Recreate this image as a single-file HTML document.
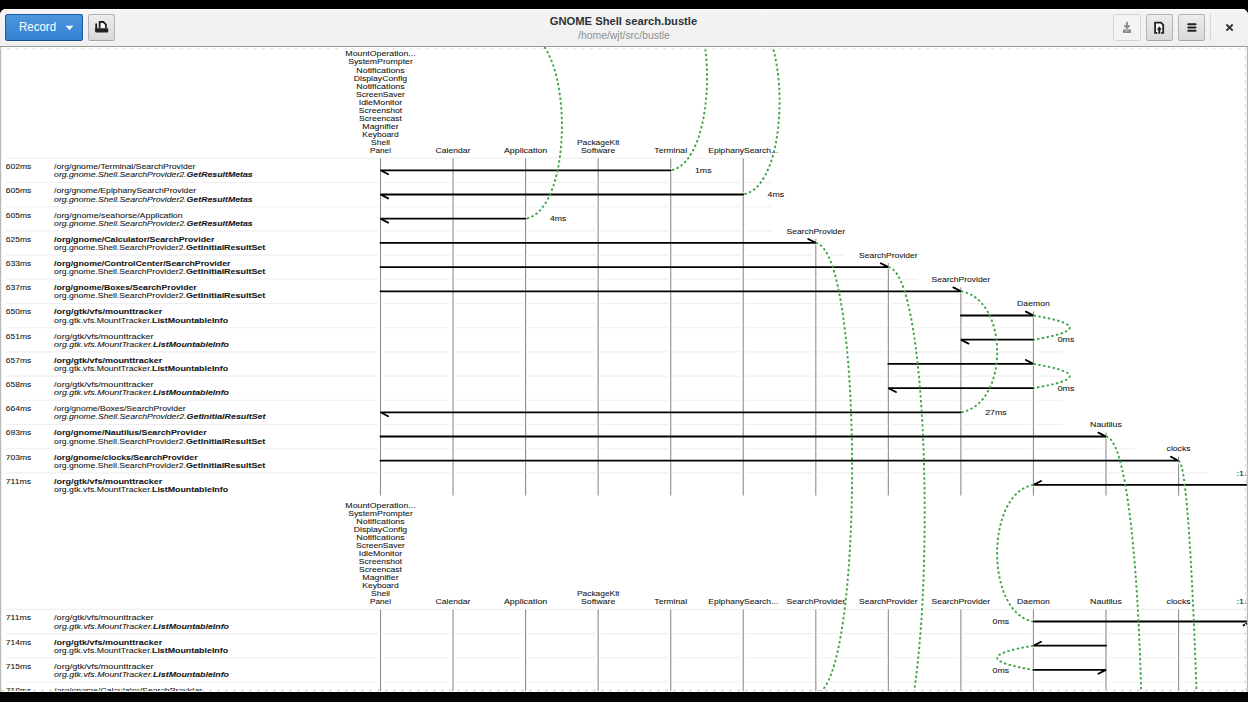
<!DOCTYPE html>
<html><head><meta charset="utf-8">
<style>
html,body{margin:0;padding:0;background:#000;width:1248px;height:702px;overflow:hidden;}
body{position:relative;font-family:"Liberation Sans",sans-serif;}
#win{position:absolute;left:0;top:9px;width:1248px;height:683px;background:#fff;border-radius:6px 6px 0 0;overflow:hidden;}
#hb{position:absolute;left:0;top:0;width:1248px;height:38px;background:linear-gradient(#f4f4f4,#f0f0f0);border-bottom:1px solid #9a9a96;box-sizing:border-box;box-shadow:inset 0 1px #fff;}
.btn{position:absolute;top:5px;height:27px;box-sizing:border-box;border:1px solid #b3b3b0;border-bottom-color:#a4a4a0;border-radius:2.5px;background:linear-gradient(#ececec,#d9d9d9);box-shadow:0 1px rgba(255,255,255,.8);}
#rec{left:5px;width:78px;background:linear-gradient(#4d95dc,#3582d4);border-color:#1c5ba3 #1c5ba3 #144d8f;}
#rec span{position:absolute;left:13.3px;top:4.6px;color:#fff;font-size:12.5px;transform:scaleX(0.92);transform-origin:0 0;}
#title{position:absolute;left:-0.5px;width:1248px;top:6px;text-align:center;font-weight:bold;font-size:11.2px;color:#2e3436;}
#sub{position:absolute;left:0;width:1248px;top:21px;text-align:center;font-size:10.4px;color:#8e9192;}
#content{position:absolute;left:0;top:37px;width:1248px;height:646px;}
svg{position:absolute;left:0;top:0;}
</style></head><body>
<div id="win">
 <div id="hb">
  <div class="btn" id="rec"><span>Record</span>
   <svg width="78" height="26" style="left:-1px;top:-1px"><path d="M60.6 11.8 L68.4 11.8 L64.5 16.2 Z" fill="#fff"/></svg></div>
  <div class="btn" style="left:88px;width:27px;"></div>
  <div id="title">GNOME Shell search.bustle</div>
  <div id="sub">/home/wjt/src/bustle</div>
  <div class="btn" style="left:1113px;width:28px;background:#f3f3f3;border-color:#d3d3d0;box-shadow:none"></div>
  <div class="btn" style="left:1146px;width:27px;"></div>
  <div class="btn" style="left:1178px;width:27px;"></div>
  <div style="position:absolute;left:1210px;top:5px;width:1px;height:27px;background:#d6d6d4"></div>
 </div>
</div>
<svg id="dg" width="1248" height="702" style="position:absolute;left:0;top:0">
 <defs><clipPath id="cc"><rect x="1" y="47" width="1246" height="644"/></clipPath></defs>
 <g clip-path="url(#cc)">
 <g stroke="#efefef" stroke-width="1.1">
<line x1="5.5" y1="158.30" x2="772.25" y2="158.30"/>
<line x1="5.5" y1="182.50" x2="772.25" y2="182.50"/>
<line x1="5.5" y1="206.70" x2="772.25" y2="206.70"/>
<line x1="5.5" y1="230.90" x2="772.25" y2="230.90"/>
<line x1="5.5" y1="255.10" x2="844.80" y2="255.10"/>
<line x1="5.5" y1="279.30" x2="917.35" y2="279.30"/>
<line x1="5.5" y1="303.50" x2="989.90" y2="303.50"/>
<line x1="5.5" y1="327.70" x2="1062.45" y2="327.70"/>
<line x1="5.5" y1="351.90" x2="1062.45" y2="351.90"/>
<line x1="5.5" y1="376.10" x2="1062.45" y2="376.10"/>
<line x1="5.5" y1="400.30" x2="1062.45" y2="400.30"/>
<line x1="5.5" y1="424.50" x2="1062.45" y2="424.50"/>
<line x1="5.5" y1="448.70" x2="1135.00" y2="448.70"/>
<line x1="5.5" y1="472.90" x2="1207.55" y2="472.90"/>
<line x1="5.5" y1="609.40" x2="1246.00" y2="609.40"/>
<line x1="5.5" y1="633.60" x2="1246.00" y2="633.60"/>
<line x1="5.5" y1="657.80" x2="1246.00" y2="657.80"/>
<line x1="5.5" y1="682.00" x2="1246.00" y2="682.00"/>
</g>
<g stroke="#fff" stroke-width="5">
<line x1="380.50" y1="158.30" x2="380.50" y2="495.60"/>
<line x1="453.05" y1="158.30" x2="453.05" y2="495.60"/>
<line x1="525.60" y1="158.30" x2="525.60" y2="495.60"/>
<line x1="598.15" y1="158.30" x2="598.15" y2="495.60"/>
<line x1="670.70" y1="158.30" x2="670.70" y2="495.60"/>
<line x1="743.25" y1="158.30" x2="743.25" y2="495.60"/>
<line x1="815.80" y1="238.90" x2="815.80" y2="495.60"/>
<line x1="888.35" y1="263.10" x2="888.35" y2="495.60"/>
<line x1="960.90" y1="287.30" x2="960.90" y2="495.60"/>
<line x1="1033.45" y1="311.50" x2="1033.45" y2="495.60"/>
<line x1="1106.00" y1="432.50" x2="1106.00" y2="495.60"/>
<line x1="1178.55" y1="456.70" x2="1178.55" y2="495.60"/>
<line x1="380.50" y1="609.40" x2="380.50" y2="693.00"/>
<line x1="453.05" y1="609.40" x2="453.05" y2="693.00"/>
<line x1="525.60" y1="609.40" x2="525.60" y2="693.00"/>
<line x1="598.15" y1="609.40" x2="598.15" y2="693.00"/>
<line x1="670.70" y1="609.40" x2="670.70" y2="693.00"/>
<line x1="743.25" y1="609.40" x2="743.25" y2="693.00"/>
<line x1="815.80" y1="609.40" x2="815.80" y2="693.00"/>
<line x1="888.35" y1="609.40" x2="888.35" y2="693.00"/>
<line x1="960.90" y1="609.40" x2="960.90" y2="693.00"/>
<line x1="1033.45" y1="609.40" x2="1033.45" y2="693.00"/>
<line x1="1106.00" y1="609.40" x2="1106.00" y2="693.00"/>
<line x1="1178.55" y1="609.40" x2="1178.55" y2="693.00"/>
</g><g stroke="#929292" stroke-width="1.15">
<line x1="380.50" y1="158.30" x2="380.50" y2="495.60"/>
<line x1="453.05" y1="158.30" x2="453.05" y2="495.60"/>
<line x1="525.60" y1="158.30" x2="525.60" y2="495.60"/>
<line x1="598.15" y1="158.30" x2="598.15" y2="495.60"/>
<line x1="670.70" y1="158.30" x2="670.70" y2="495.60"/>
<line x1="743.25" y1="158.30" x2="743.25" y2="495.60"/>
<line x1="815.80" y1="238.90" x2="815.80" y2="495.60"/>
<line x1="888.35" y1="263.10" x2="888.35" y2="495.60"/>
<line x1="960.90" y1="287.30" x2="960.90" y2="495.60"/>
<line x1="1033.45" y1="311.50" x2="1033.45" y2="495.60"/>
<line x1="1106.00" y1="432.50" x2="1106.00" y2="495.60"/>
<line x1="1178.55" y1="456.70" x2="1178.55" y2="495.60"/>
<line x1="380.50" y1="609.40" x2="380.50" y2="693.00"/>
<line x1="453.05" y1="609.40" x2="453.05" y2="693.00"/>
<line x1="525.60" y1="609.40" x2="525.60" y2="693.00"/>
<line x1="598.15" y1="609.40" x2="598.15" y2="693.00"/>
<line x1="670.70" y1="609.40" x2="670.70" y2="693.00"/>
<line x1="743.25" y1="609.40" x2="743.25" y2="693.00"/>
<line x1="815.80" y1="609.40" x2="815.80" y2="693.00"/>
<line x1="888.35" y1="609.40" x2="888.35" y2="693.00"/>
<line x1="960.90" y1="609.40" x2="960.90" y2="693.00"/>
<line x1="1033.45" y1="609.40" x2="1033.45" y2="693.00"/>
<line x1="1106.00" y1="609.40" x2="1106.00" y2="693.00"/>
<line x1="1178.55" y1="609.40" x2="1178.55" y2="693.00"/>
</g>
<g fill="none" stroke="#fff" stroke-width="4"><path d="M670.70 -15.40 C719.12 -7.33 719.12 162.23 670.70 170.30"/><path d="M743.25 8.80 C791.67 16.87 791.67 186.43 743.25 194.50"/><path d="M525.60 33.00 C574.02 41.07 574.02 210.63 525.60 218.70"/><path d="M815.80 242.90 C864.22 250.97 864.22 686.03 815.80 694.10"/><path d="M888.35 267.10 C936.77 275.17 936.77 751.93 888.35 760.00"/><path d="M960.90 291.30 C1009.32 299.37 1009.32 404.23 960.90 412.30"/><path d="M1033.45 315.50 C1081.87 323.57 1081.87 331.63 1033.45 339.70"/><path d="M1033.45 363.90 C1081.87 371.97 1081.87 380.03 1033.45 388.10"/><path d="M1106.00 436.50 C1154.42 444.57 1154.42 1119.93 1106.00 1128.00"/><path d="M1178.55 460.70 C1226.97 468.77 1226.97 4492.53 1178.55 4500.60"/><path d="M1033.45 484.90 C985.03 492.97 985.03 613.43 1033.45 621.50"/><path d="M1033.45 645.70 C985.03 653.77 985.03 661.83 1033.45 669.90"/></g>
<g fill="none" stroke="#000" stroke-width="1.8" stroke-linecap="round" stroke-linejoin="miter" stroke-miterlimit="3">
<path d="M670.70 170.30 L380.50 170.30 L388.10 174.20"/>
<path d="M743.25 194.50 L380.50 194.50 L388.10 198.40"/>
<path d="M525.60 218.70 L380.50 218.70 L388.10 222.60"/>
<path d="M380.50 242.90 L815.80 242.90 L808.20 239.00"/>
<path d="M380.50 267.10 L888.35 267.10 L880.75 263.20"/>
<path d="M380.50 291.30 L960.90 291.30 L953.30 287.40"/>
<path d="M960.90 315.50 L1033.45 315.50 L1025.85 311.60"/>
<path d="M1033.45 339.70 L960.90 339.70 L968.50 343.60"/>
<path d="M888.35 363.90 L1033.45 363.90 L1025.85 360.00"/>
<path d="M1033.45 388.10 L888.35 388.10 L895.95 392.00"/>
<path d="M960.90 412.30 L380.50 412.30 L388.10 416.20"/>
<path d="M380.50 436.50 L1106.00 436.50 L1098.40 432.60"/>
<path d="M380.50 460.70 L1178.55 460.70 L1170.95 456.80"/>
<path d="M1251.10 484.90 L1033.45 484.90 L1041.05 481.00"/>
<path d="M1033.45 621.50 L1251.10 621.50 L1243.50 625.40"/>
<path d="M1106.00 645.70 L1033.45 645.70 L1041.05 641.80"/>
<path d="M1033.45 669.90 L1106.00 669.90 L1098.40 673.80"/>
</g>
<g fill="none" stroke="#3fa447" stroke-width="1.9" stroke-dasharray="2.42 2.42"><path d="M670.70 -15.40 C719.12 -7.33 719.12 162.23 670.70 170.30"/><path d="M743.25 8.80 C791.67 16.87 791.67 186.43 743.25 194.50"/><path d="M525.60 33.00 C574.02 41.07 574.02 210.63 525.60 218.70"/><path d="M815.80 242.90 C864.22 250.97 864.22 686.03 815.80 694.10"/><path d="M888.35 267.10 C936.77 275.17 936.77 751.93 888.35 760.00"/><path d="M960.90 291.30 C1009.32 299.37 1009.32 404.23 960.90 412.30"/><path d="M1033.45 315.50 C1081.87 323.57 1081.87 331.63 1033.45 339.70"/><path d="M1033.45 363.90 C1081.87 371.97 1081.87 380.03 1033.45 388.10"/><path d="M1106.00 436.50 C1154.42 444.57 1154.42 1119.93 1106.00 1128.00"/><path d="M1178.55 460.70 C1226.97 468.77 1226.97 4492.53 1178.55 4500.60"/><path d="M1033.45 484.90 C985.03 492.97 985.03 613.43 1033.45 621.50"/><path d="M1033.45 645.70 C985.03 653.77 985.03 661.83 1033.45 669.90"/></g>
<g font-family="&quot;Liberation Sans&quot;, sans-serif" fill="#151515" stroke="#151515" stroke-width="0.08"><text x="345.38" y="56.40" textLength="70.25" lengthAdjust="spacingAndGlyphs" font-size="8.0" >MountOperation...</text><text x="348.17" y="64.45" textLength="64.66" lengthAdjust="spacingAndGlyphs" font-size="8.0" >SystemPrompter</text><text x="356.25" y="72.50" textLength="48.51" lengthAdjust="spacingAndGlyphs" font-size="8.0" >Notifications</text><text x="353.78" y="80.55" textLength="53.43" lengthAdjust="spacingAndGlyphs" font-size="8.0" >DisplayConfig</text><text x="356.25" y="88.60" textLength="48.51" lengthAdjust="spacingAndGlyphs" font-size="8.0" >Notifications</text><text x="356.07" y="96.65" textLength="48.85" lengthAdjust="spacingAndGlyphs" font-size="8.0" >ScreenSaver</text><text x="358.71" y="104.70" textLength="43.59" lengthAdjust="spacingAndGlyphs" font-size="8.0" >IdleMonitor</text><text x="358.81" y="112.75" textLength="43.37" lengthAdjust="spacingAndGlyphs" font-size="8.0" >Screenshot</text><text x="359.13" y="120.80" textLength="42.73" lengthAdjust="spacingAndGlyphs" font-size="8.0" >Screencast</text><text x="362.37" y="128.85" textLength="36.26" lengthAdjust="spacingAndGlyphs" font-size="8.0" >Magnifier</text><text x="362.28" y="136.90" textLength="36.43" lengthAdjust="spacingAndGlyphs" font-size="8.0" >Keyboard</text><text x="371.05" y="144.95" textLength="18.91" lengthAdjust="spacingAndGlyphs" font-size="8.0" >Shell</text><text x="370.05" y="153.00" textLength="20.91" lengthAdjust="spacingAndGlyphs" font-size="8.0" >Panel</text><text x="435.63" y="153.00" textLength="34.85" lengthAdjust="spacingAndGlyphs" font-size="8.0" >Calendar</text><text x="503.95" y="153.00" textLength="43.30" lengthAdjust="spacingAndGlyphs" font-size="8.0" >Application</text><text x="576.95" y="144.95" textLength="42.40" lengthAdjust="spacingAndGlyphs" font-size="8.0" >PackageKit</text><text x="581.07" y="153.00" textLength="34.16" lengthAdjust="spacingAndGlyphs" font-size="8.0" >Software</text><text x="654.32" y="153.00" textLength="32.75" lengthAdjust="spacingAndGlyphs" font-size="8.0" >Terminal</text><text x="708.22" y="153.00" textLength="70.06" lengthAdjust="spacingAndGlyphs" font-size="8.0" >EpiphanySearch...</text><text x="345.38" y="507.50" textLength="70.25" lengthAdjust="spacingAndGlyphs" font-size="8.0" >MountOperation...</text><text x="348.17" y="515.55" textLength="64.66" lengthAdjust="spacingAndGlyphs" font-size="8.0" >SystemPrompter</text><text x="356.25" y="523.60" textLength="48.51" lengthAdjust="spacingAndGlyphs" font-size="8.0" >Notifications</text><text x="353.78" y="531.65" textLength="53.43" lengthAdjust="spacingAndGlyphs" font-size="8.0" >DisplayConfig</text><text x="356.25" y="539.70" textLength="48.51" lengthAdjust="spacingAndGlyphs" font-size="8.0" >Notifications</text><text x="356.07" y="547.75" textLength="48.85" lengthAdjust="spacingAndGlyphs" font-size="8.0" >ScreenSaver</text><text x="358.71" y="555.80" textLength="43.59" lengthAdjust="spacingAndGlyphs" font-size="8.0" >IdleMonitor</text><text x="358.81" y="563.85" textLength="43.37" lengthAdjust="spacingAndGlyphs" font-size="8.0" >Screenshot</text><text x="359.13" y="571.90" textLength="42.73" lengthAdjust="spacingAndGlyphs" font-size="8.0" >Screencast</text><text x="362.37" y="579.95" textLength="36.26" lengthAdjust="spacingAndGlyphs" font-size="8.0" >Magnifier</text><text x="362.28" y="588.00" textLength="36.43" lengthAdjust="spacingAndGlyphs" font-size="8.0" >Keyboard</text><text x="371.05" y="596.05" textLength="18.91" lengthAdjust="spacingAndGlyphs" font-size="8.0" >Shell</text><text x="370.05" y="604.10" textLength="20.91" lengthAdjust="spacingAndGlyphs" font-size="8.0" >Panel</text><text x="435.63" y="604.10" textLength="34.85" lengthAdjust="spacingAndGlyphs" font-size="8.0" >Calendar</text><text x="503.95" y="604.10" textLength="43.30" lengthAdjust="spacingAndGlyphs" font-size="8.0" >Application</text><text x="576.95" y="596.05" textLength="42.40" lengthAdjust="spacingAndGlyphs" font-size="8.0" >PackageKit</text><text x="581.07" y="604.10" textLength="34.16" lengthAdjust="spacingAndGlyphs" font-size="8.0" >Software</text><text x="654.32" y="604.10" textLength="32.75" lengthAdjust="spacingAndGlyphs" font-size="8.0" >Terminal</text><text x="708.22" y="604.10" textLength="70.06" lengthAdjust="spacingAndGlyphs" font-size="8.0" >EpiphanySearch...</text><text x="786.53" y="604.10" textLength="58.53" lengthAdjust="spacingAndGlyphs" font-size="8.0" >SearchProvider</text><text x="859.08" y="604.10" textLength="58.53" lengthAdjust="spacingAndGlyphs" font-size="8.0" >SearchProvider</text><text x="931.63" y="604.10" textLength="58.53" lengthAdjust="spacingAndGlyphs" font-size="8.0" >SearchProvider</text><text x="1017.11" y="604.10" textLength="32.69" lengthAdjust="spacingAndGlyphs" font-size="8.0" >Daemon</text><text x="1090.12" y="604.10" textLength="31.75" lengthAdjust="spacingAndGlyphs" font-size="8.0" >Nautilus</text><text x="1166.58" y="604.10" textLength="23.94" lengthAdjust="spacingAndGlyphs" font-size="8.0" >clocks</text><text x="1236.60" y="604.10" textLength="24.80" lengthAdjust="spacingAndGlyphs" font-size="8.0" >:1.345</text><text x="5.80" y="169.10" textLength="25.36" lengthAdjust="spacingAndGlyphs" font-size="8.0" >602ms</text><text x="54.10" y="169.10" textLength="141.33" lengthAdjust="spacingAndGlyphs" font-size="8.0" >/org/gnome/Terminal/SearchProvider</text><text x="54.10" y="177.40" textLength="132.44" lengthAdjust="spacingAndGlyphs" font-size="8.0" font-style="italic">org.gnome.Shell.SearchProvider2.</text><text x="186.54" y="177.40" textLength="66.22" lengthAdjust="spacingAndGlyphs" font-size="8.0" font-weight="bold" font-style="italic">GetResultMetas</text><text x="5.80" y="193.30" textLength="25.36" lengthAdjust="spacingAndGlyphs" font-size="8.0" >605ms</text><text x="54.10" y="193.30" textLength="142.02" lengthAdjust="spacingAndGlyphs" font-size="8.0" >/org/gnome/EpiphanySearchProvider</text><text x="54.10" y="201.60" textLength="132.44" lengthAdjust="spacingAndGlyphs" font-size="8.0" font-style="italic">org.gnome.Shell.SearchProvider2.</text><text x="186.54" y="201.60" textLength="66.22" lengthAdjust="spacingAndGlyphs" font-size="8.0" font-weight="bold" font-style="italic">GetResultMetas</text><text x="5.80" y="217.50" textLength="25.36" lengthAdjust="spacingAndGlyphs" font-size="8.0" >605ms</text><text x="54.10" y="217.50" textLength="128.55" lengthAdjust="spacingAndGlyphs" font-size="8.0" >/org/gnome/seahorse/Application</text><text x="54.10" y="225.80" textLength="132.44" lengthAdjust="spacingAndGlyphs" font-size="8.0" font-style="italic">org.gnome.Shell.SearchProvider2.</text><text x="186.54" y="225.80" textLength="66.22" lengthAdjust="spacingAndGlyphs" font-size="8.0" font-weight="bold" font-style="italic">GetResultMetas</text><text x="5.80" y="241.70" textLength="25.36" lengthAdjust="spacingAndGlyphs" font-size="8.0" >625ms</text><text x="54.10" y="241.70" textLength="160.20" lengthAdjust="spacingAndGlyphs" font-size="8.0" font-weight="bold">/org/gnome/Calculator/SearchProvider</text><text x="54.10" y="250.00" textLength="131.83" lengthAdjust="spacingAndGlyphs" font-size="8.0" >org.gnome.Shell.SearchProvider2.</text><text x="185.93" y="250.00" textLength="79.36" lengthAdjust="spacingAndGlyphs" font-size="8.0" font-weight="bold">GetInitialResultSet</text><text x="5.80" y="265.90" textLength="25.36" lengthAdjust="spacingAndGlyphs" font-size="8.0" >633ms</text><text x="54.10" y="265.90" textLength="176.34" lengthAdjust="spacingAndGlyphs" font-size="8.0" font-weight="bold">/org/gnome/ControlCenter/SearchProvider</text><text x="54.10" y="274.20" textLength="131.83" lengthAdjust="spacingAndGlyphs" font-size="8.0" >org.gnome.Shell.SearchProvider2.</text><text x="185.93" y="274.20" textLength="79.36" lengthAdjust="spacingAndGlyphs" font-size="8.0" font-weight="bold">GetInitialResultSet</text><text x="5.80" y="290.10" textLength="25.36" lengthAdjust="spacingAndGlyphs" font-size="8.0" >637ms</text><text x="54.10" y="290.10" textLength="142.65" lengthAdjust="spacingAndGlyphs" font-size="8.0" font-weight="bold">/org/gnome/Boxes/SearchProvider</text><text x="54.10" y="298.40" textLength="131.83" lengthAdjust="spacingAndGlyphs" font-size="8.0" >org.gnome.Shell.SearchProvider2.</text><text x="185.93" y="298.40" textLength="79.36" lengthAdjust="spacingAndGlyphs" font-size="8.0" font-weight="bold">GetInitialResultSet</text><text x="5.80" y="314.30" textLength="25.36" lengthAdjust="spacingAndGlyphs" font-size="8.0" >650ms</text><text x="54.10" y="314.30" textLength="108.16" lengthAdjust="spacingAndGlyphs" font-size="8.0" font-weight="bold">/org/gtk/vfs/mounttracker</text><text x="54.10" y="322.60" textLength="97.90" lengthAdjust="spacingAndGlyphs" font-size="8.0" >org.gtk.vfs.MountTracker.</text><text x="152.00" y="322.60" textLength="76.09" lengthAdjust="spacingAndGlyphs" font-size="8.0" font-weight="bold">ListMountableInfo</text><text x="5.80" y="338.50" textLength="25.36" lengthAdjust="spacingAndGlyphs" font-size="8.0" >651ms</text><text x="54.10" y="338.50" textLength="99.51" lengthAdjust="spacingAndGlyphs" font-size="8.0" >/org/gtk/vfs/mounttracker</text><text x="54.10" y="346.80" textLength="98.85" lengthAdjust="spacingAndGlyphs" font-size="8.0" font-style="italic">org.gtk.vfs.MountTracker.</text><text x="152.95" y="346.80" textLength="76.09" lengthAdjust="spacingAndGlyphs" font-size="8.0" font-weight="bold" font-style="italic">ListMountableInfo</text><text x="5.80" y="362.70" textLength="25.36" lengthAdjust="spacingAndGlyphs" font-size="8.0" >657ms</text><text x="54.10" y="362.70" textLength="108.16" lengthAdjust="spacingAndGlyphs" font-size="8.0" font-weight="bold">/org/gtk/vfs/mounttracker</text><text x="54.10" y="371.00" textLength="97.90" lengthAdjust="spacingAndGlyphs" font-size="8.0" >org.gtk.vfs.MountTracker.</text><text x="152.00" y="371.00" textLength="76.09" lengthAdjust="spacingAndGlyphs" font-size="8.0" font-weight="bold">ListMountableInfo</text><text x="5.80" y="386.90" textLength="25.36" lengthAdjust="spacingAndGlyphs" font-size="8.0" >658ms</text><text x="54.10" y="386.90" textLength="99.51" lengthAdjust="spacingAndGlyphs" font-size="8.0" >/org/gtk/vfs/mounttracker</text><text x="54.10" y="395.20" textLength="98.85" lengthAdjust="spacingAndGlyphs" font-size="8.0" font-style="italic">org.gtk.vfs.MountTracker.</text><text x="152.95" y="395.20" textLength="76.09" lengthAdjust="spacingAndGlyphs" font-size="8.0" font-weight="bold" font-style="italic">ListMountableInfo</text><text x="5.80" y="411.10" textLength="25.36" lengthAdjust="spacingAndGlyphs" font-size="8.0" >664ms</text><text x="54.10" y="411.10" textLength="131.55" lengthAdjust="spacingAndGlyphs" font-size="8.0" >/org/gnome/Boxes/SearchProvider</text><text x="54.10" y="419.40" textLength="132.44" lengthAdjust="spacingAndGlyphs" font-size="8.0" font-style="italic">org.gnome.Shell.SearchProvider2.</text><text x="186.54" y="419.40" textLength="78.99" lengthAdjust="spacingAndGlyphs" font-size="8.0" font-weight="bold" font-style="italic">GetInitialResultSet</text><text x="5.80" y="435.30" textLength="25.36" lengthAdjust="spacingAndGlyphs" font-size="8.0" >693ms</text><text x="54.10" y="435.30" textLength="152.50" lengthAdjust="spacingAndGlyphs" font-size="8.0" font-weight="bold">/org/gnome/Nautilus/SearchProvider</text><text x="54.10" y="443.60" textLength="131.83" lengthAdjust="spacingAndGlyphs" font-size="8.0" >org.gnome.Shell.SearchProvider2.</text><text x="185.93" y="443.60" textLength="79.36" lengthAdjust="spacingAndGlyphs" font-size="8.0" font-weight="bold">GetInitialResultSet</text><text x="5.80" y="459.50" textLength="25.36" lengthAdjust="spacingAndGlyphs" font-size="8.0" >703ms</text><text x="54.10" y="459.50" textLength="143.46" lengthAdjust="spacingAndGlyphs" font-size="8.0" font-weight="bold">/org/gnome/clocks/SearchProvider</text><text x="54.10" y="467.80" textLength="131.83" lengthAdjust="spacingAndGlyphs" font-size="8.0" >org.gnome.Shell.SearchProvider2.</text><text x="185.93" y="467.80" textLength="79.36" lengthAdjust="spacingAndGlyphs" font-size="8.0" font-weight="bold">GetInitialResultSet</text><text x="5.80" y="483.70" textLength="25.36" lengthAdjust="spacingAndGlyphs" font-size="8.0" >711ms</text><text x="54.10" y="483.70" textLength="108.16" lengthAdjust="spacingAndGlyphs" font-size="8.0" font-weight="bold">/org/gtk/vfs/mounttracker</text><text x="54.10" y="492.00" textLength="97.90" lengthAdjust="spacingAndGlyphs" font-size="8.0" >org.gtk.vfs.MountTracker.</text><text x="152.00" y="492.00" textLength="76.09" lengthAdjust="spacingAndGlyphs" font-size="8.0" font-weight="bold">ListMountableInfo</text><text x="5.80" y="620.30" textLength="25.36" lengthAdjust="spacingAndGlyphs" font-size="8.0" >711ms</text><text x="54.10" y="620.30" textLength="99.51" lengthAdjust="spacingAndGlyphs" font-size="8.0" >/org/gtk/vfs/mounttracker</text><text x="54.10" y="628.60" textLength="98.85" lengthAdjust="spacingAndGlyphs" font-size="8.0" font-style="italic">org.gtk.vfs.MountTracker.</text><text x="152.95" y="628.60" textLength="76.09" lengthAdjust="spacingAndGlyphs" font-size="8.0" font-weight="bold" font-style="italic">ListMountableInfo</text><text x="5.80" y="644.50" textLength="25.36" lengthAdjust="spacingAndGlyphs" font-size="8.0" >714ms</text><text x="54.10" y="644.50" textLength="108.16" lengthAdjust="spacingAndGlyphs" font-size="8.0" font-weight="bold">/org/gtk/vfs/mounttracker</text><text x="54.10" y="652.80" textLength="97.90" lengthAdjust="spacingAndGlyphs" font-size="8.0" >org.gtk.vfs.MountTracker.</text><text x="152.00" y="652.80" textLength="76.09" lengthAdjust="spacingAndGlyphs" font-size="8.0" font-weight="bold">ListMountableInfo</text><text x="5.80" y="668.70" textLength="25.36" lengthAdjust="spacingAndGlyphs" font-size="8.0" >715ms</text><text x="54.10" y="668.70" textLength="99.51" lengthAdjust="spacingAndGlyphs" font-size="8.0" >/org/gtk/vfs/mounttracker</text><text x="54.10" y="677.00" textLength="98.85" lengthAdjust="spacingAndGlyphs" font-size="8.0" font-style="italic">org.gtk.vfs.MountTracker.</text><text x="152.95" y="677.00" textLength="76.09" lengthAdjust="spacingAndGlyphs" font-size="8.0" font-weight="bold" font-style="italic">ListMountableInfo</text><text x="5.80" y="692.90" textLength="25.36" lengthAdjust="spacingAndGlyphs" font-size="8.0" >718ms</text><text x="54.10" y="692.90" textLength="147.94" lengthAdjust="spacingAndGlyphs" font-size="8.0" >/org/gnome/Calculator/SearchProvider</text><text x="54.10" y="701.20" textLength="132.44" lengthAdjust="spacingAndGlyphs" font-size="8.0" font-style="italic">org.gnome.Shell.SearchProvider2.</text><text x="186.54" y="701.20" textLength="78.99" lengthAdjust="spacingAndGlyphs" font-size="8.0" font-weight="bold" font-style="italic">GetInitialResultSet</text><text x="786.53" y="233.60" textLength="58.53" lengthAdjust="spacingAndGlyphs" font-size="8.0" >SearchProvider</text><text x="859.08" y="257.80" textLength="58.53" lengthAdjust="spacingAndGlyphs" font-size="8.0" >SearchProvider</text><text x="931.63" y="282.00" textLength="58.53" lengthAdjust="spacingAndGlyphs" font-size="8.0" >SearchProvider</text><text x="1017.11" y="306.20" textLength="32.69" lengthAdjust="spacingAndGlyphs" font-size="8.0" >Daemon</text><text x="1090.12" y="427.20" textLength="31.75" lengthAdjust="spacingAndGlyphs" font-size="8.0" >Nautilus</text><text x="1166.58" y="451.40" textLength="23.94" lengthAdjust="spacingAndGlyphs" font-size="8.0" >clocks</text><text x="1236.60" y="475.60" textLength="24.80" lengthAdjust="spacingAndGlyphs" font-size="8.0" >:1.345</text><text x="695.00" y="172.90" textLength="16.52" lengthAdjust="spacingAndGlyphs" font-size="8.0" >1ms</text><text x="767.55" y="197.10" textLength="16.52" lengthAdjust="spacingAndGlyphs" font-size="8.0" >4ms</text><text x="549.90" y="221.30" textLength="16.52" lengthAdjust="spacingAndGlyphs" font-size="8.0" >4ms</text><text x="985.20" y="414.90" textLength="21.45" lengthAdjust="spacingAndGlyphs" font-size="8.0" >27ms</text><text x="1057.75" y="342.30" textLength="16.52" lengthAdjust="spacingAndGlyphs" font-size="8.0" >0ms</text><text x="1057.75" y="390.70" textLength="16.52" lengthAdjust="spacingAndGlyphs" font-size="8.0" >0ms</text><text x="992.63" y="624.10" textLength="16.52" lengthAdjust="spacingAndGlyphs" font-size="8.0" >0ms</text><text x="992.63" y="672.50" textLength="16.52" lengthAdjust="spacingAndGlyphs" font-size="8.0" >0ms</text></g>
 </g>
 <!-- left / right borders -->
 <rect x="0" y="47" width="1.2" height="645" fill="#b9b9b6"/>
 <rect x="1246.8" y="47" width="1.2" height="645" fill="#b9b9b6"/>
 <line x1="-1.3" y1="48.8" x2="1246" y2="48.8" stroke="#e8e8e8" stroke-width="1.3" stroke-dasharray="4 4.2"/>
 <line x1="1" y1="690.5" x2="1246" y2="690.5" stroke="#d6d6d6" stroke-width="1.3" stroke-dasharray="3 5"/>
 <line x1="1245.5" y1="48" x2="1245.5" y2="691" stroke="#e0e0e0" stroke-width="1.3" stroke-dasharray="3 5"/>
 <!-- header icons -->
 <g fill="none" stroke="#1e2224" stroke-width="1.8">
  <path d="M96.2 23.5 V31.5"/>
  <path d="M99.7 28 V22 H103.4 L105.9 24.5 V28" fill="#fff"/>
 </g>
 <path d="M95.2 28.2 H108.2 V31.5 Q108.2 32.6 107 32.6 H96.3 Q95.2 32.6 95.2 31.5 Z" fill="#1e2224"/>
 <g stroke="#8b8d8e" stroke-width="1.9" fill="none">
  <path d="M1127 21.8 V27.6"/><path d="M1124.4 25.3 L1127 27.9 L1129.6 25.3"/>
 </g>
 <path d="M1123 29.4 H1131 V33 H1123 Z" fill="#8b8d8e"/><path d="M1125.5 30.6 H1128.5 V31.4 H1125.5Z" fill="#c8c8c8"/>
 <g fill="none" stroke="#1e2224" stroke-width="1.8">
  <path d="M1155.3 22.7 H1161.2 L1163.3 24.8 V32.8 H1155.3 Z" fill="#fbfbfb" stroke="none"/><path d="M1157.3 32.8 H1155.1 V22.7 H1161.0 L1163.2 24.9 V32.8 H1161.2"/>
  <path d="M1159.3 33.7 V28.8" stroke-width="2.1"/>
 </g>
 <path d="M1156.8 29.7 L1159.3 26.3 L1161.8 29.7 Z" fill="#1e2224"/>
 <g stroke="#1e2224" stroke-width="1.9" stroke-linecap="round">
  <path d="M1188.2 24.3 H1195.6 M1188.2 27.5 H1195.6 M1188.2 30.8 H1195.6"/>
 </g>
 <g stroke="#2e3436" stroke-width="1.9">
  <path d="M1226.4 24.5 L1232.7 30.6 M1232.7 24.5 L1226.4 30.6"/>
 </g>
</svg>
</body></html>
